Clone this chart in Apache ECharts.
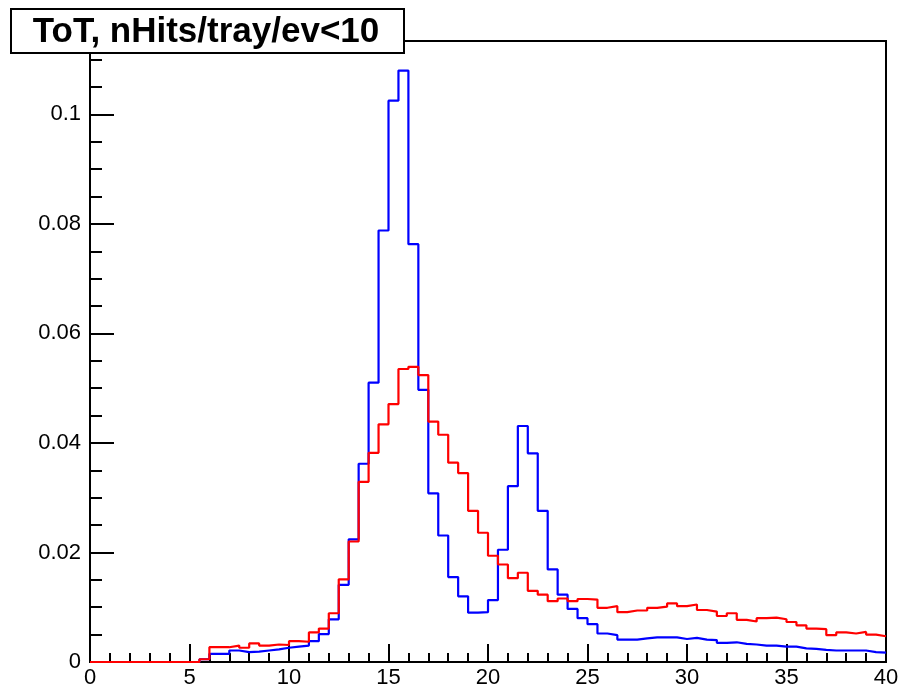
<!DOCTYPE html>
<html>
<head>
<meta charset="utf-8">
<script src="https://cdn.jsdelivr.net/npm/echarts@6/dist/echarts.min.js"></script>
<style>
html,body{margin:0;padding:0;background:#fff;}
#c{width:904px;height:691px;}
</style>
</head>
<body>
<div id="c"></div>
<script>
// Histogram: 80 bins of width 0.5 from 0 to 40
var binWidth = 0.5;
var binStart = 0;
var blueValues = [
  0,0,0,0,0,0,0,0,0,0,
  0,0.0005,0.0015,0.0015,0.0021,0.0018,0.0019,0.0021,0.0023,0.0026,
  0.0028,0.0030,0.0038,0.0051,0.0078,0.0141,0.0224,0.0362,0.0510,0.0788,
  0.1025,0.1080,0.0763,0.0497,0.0308,0.0231,0.0155,0.0120,0.0090,0.0091,
  0.0113,0.0205,0.0321,0.0431,0.0381,0.0276,0.0169,0.0123,0.0097,0.0080,
  0.0069,0.0052,0.0049,0.0041,0.0041,0.0043,0.0045,0.0045,0.0045,0.0042,
  0.0044,0.0041,0.0040,0.0035,0.0036,0.0033,0.0032,0.0030,0.0030,0.0028,
  0.0028,0.0025,0.0024,0.0022,0.0021,0.0021,0.0021,0.0021,0.0018,0.0017
];
var redValues = [
  0,0,0,0,0,0,0,0,0,0,
  0,0.0005,0.0027,0.0027,0.0030,0.0026,0.0034,0.0030,0.0032,0.0031,
  0.0038,0.0037,0.0054,0.0061,0.0089,0.0151,0.0220,0.0329,0.0382,0.0434,
  0.0471,0.0535,0.0539,0.0524,0.0439,0.0415,0.0364,0.0345,0.0276,0.0236,
  0.0194,0.0178,0.0153,0.0163,0.0130,0.0123,0.0111,0.0116,0.0111,0.0115,
  0.0114,0.0099,0.0102,0.0091,0.0094,0.0094,0.0099,0.0101,0.0107,0.0102,
  0.0105,0.0095,0.0092,0.0084,0.0089,0.0077,0.0074,0.0080,0.0081,0.0078,
  0.0073,0.0067,0.0061,0.0060,0.0049,0.0054,0.0052,0.0055,0.0050,0.0047
];
var titleText = 'ToT, nHits/tray/ev<10';
var xMin = 0, xMax = 40, xStep = 5;
var yMin = 0, yMax = 0.1134, yStep = 0.02, yMinorStep = 0.005;

function stepData(vals) {
  var d = [];
  for (var i = 0; i < vals.length; i++) d.push([binStart + i * binWidth, vals[i]]);
  d.push([binStart + vals.length * binWidth, vals[vals.length - 1]]);
  return d;
}

var FONT = '"Liberation Sans", Arial, Helvetica, sans-serif';
var chart = echarts.init(document.getElementById('c'), null, {renderer: 'canvas'});
chart.setOption({
  animation: false,
  backgroundColor: '#ffffff',
  grid: {left: 90, right: 18, top: 41, bottom: 29, show: true, borderColor: '#000', borderWidth: 2, backgroundColor: 'transparent', containLabel: false},
  xAxis: {
    type: 'value', min: xMin, max: xMax, interval: xStep,
    axisLine: {show: true, onZero: false, lineStyle: {color: '#000', width: 2}},
    axisTick: {show: true, inside: true, length: 18, lineStyle: {color: '#000', width: 2}},
    minorTick: {show: true, splitNumber: 5, length: 9, lineStyle: {color: '#000', width: 2}},
    axisLabel: {color: '#000', fontSize: 22, fontFamily: FONT, margin: 5},
    splitLine: {show: false}, minorSplitLine: {show: false}
  },
  yAxis: [{
    type: 'value', min: yMin, max: yMax, interval: yStep, position: 'left',
    axisLine: {show: true, onZero: false, lineStyle: {color: '#000', width: 2}},
    axisTick: {show: true, inside: true, length: 24, lineStyle: {color: '#000', width: 2}},
    minorTick: {show: false},
    axisLabel: {color: '#000', fontSize: 22, fontFamily: FONT, margin: 9, showMaxLabel: false},
    splitLine: {show: false}
  }, {
    type: 'value', min: yMin, max: yMax, interval: yMinorStep, position: 'left', offset: 0,
    axisLine: {show: false},
    axisTick: {show: true, inside: true, length: 12, lineStyle: {color: '#000', width: 2}},
    axisLabel: {show: false},
    splitLine: {show: false}
  }],
  series: [{
    type: 'line', step: 'end', data: stepData(blueValues), showSymbol: false, symbol: 'none',
    lineStyle: {color: '#0000ff', width: 2.2}, itemStyle: {color: '#0000ff'}, z: 3, yAxisIndex: 0
  }, {
    type: 'line', step: 'end', data: stepData(redValues), showSymbol: false, symbol: 'none',
    lineStyle: {color: '#ff0000', width: 2.2}, itemStyle: {color: '#ff0000'}, z: 4, yAxisIndex: 0
  }],
  graphic: [
    {type: 'rect', z: 100, shape: {x: 12, y: 10, width: 393, height: 44}, style: {fill: '#9a9a9a'}},
    {type: 'rect', z: 101, shape: {x: 11, y: 9, width: 393, height: 44}, style: {fill: '#fff', stroke: '#000', lineWidth: 2}},
    {type: 'text', z: 102, x: 206, y: 32, style: {text: titleText, fill: '#000', font: 'bold 35px ' + FONT, align: 'center', verticalAlign: 'middle'}}
  ]
});
</script>
</body>
</html>
